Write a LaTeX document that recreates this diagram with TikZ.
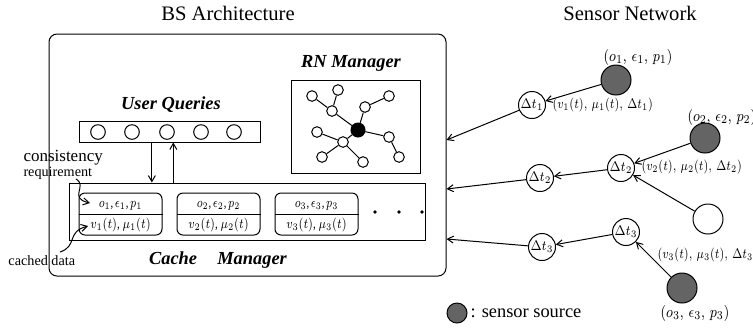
\documentclass[tikz,border=0pt]{standalone}
\usepackage{fontspec}
\usepackage{graphicx}
\setmainfont{Liberation Serif}
\usetikzlibrary{arrows.meta,calc}
\definecolor{srcgray}{RGB}{100,100,100}
\newcommand{\sqz}[2][0.78]{\scalebox{#1}[1]{#2}}
\begin{document}
\begin{tikzpicture}[x=0.5pt,y=-0.5pt, line width=0.5pt,
  arr/.style={-{Straight Barb[length=3pt,width=3.5pt]}},
  ttl/.style={inner sep=0pt,font=\fontsize{10.3}{12}\selectfont},
  btitle/.style={inner sep=0pt,font=\fontsize{9.2}{11}\selectfont\bfseries\itshape},
  rn/.style={circle,draw,fill=white,inner sep=0pt,minimum size=5.3pt},
  qc/.style={circle,draw,inner sep=0pt,minimum size=7.3pt},
  dnode/.style={circle,draw,fill=white,inner sep=0pt,minimum size=13.5pt,font=\fontsize{7}{8}\selectfont},
  src/.style={circle,draw,fill=srcgray,inner sep=0pt,minimum size=15pt},
  lab/.style={inner sep=0pt,font=\fontsize{7}{8}\selectfont},
  olab/.style={inner sep=0pt,font=\fontsize{8}{9}\selectfont},
  item/.style={draw,rounded corners=3pt,minimum width=41.5pt,minimum height=21pt,inner sep=0pt},
  itxt/.style={inner sep=0pt,font=\fontsize{7}{8}\selectfont},
  smalltxt/.style={inner sep=0pt,anchor=west,font=\fontsize{7.1}{8}\selectfont},
  dotnode/.style={circle,fill,inner sep=0pt,minimum size=1.8pt}
]
\useasboundingbox (0,0) rectangle (753,329);

% titles
\node[ttl] (t1) at (228,13) {BS Architecture};
\node[ttl] (t2) at (630,13) {Sensor Network};

% outer box
\node[draw,rounded corners=4pt,minimum width=198.5pt,minimum height=121pt,inner sep=0pt] (bs) at (247.5,155) {};

% RN manager
\node[btitle] (rnt) at (351,63) {RN Manager};
\node[draw,minimum width=64.5pt,minimum height=46.5pt,inner sep=0pt] (rnb) at (355.5,126.5) {};
\node[rn] (r1) at (312,96) {};
\node[rn] (r2) at (338,90) {};
\node[rn] (r3) at (332,111) {};
\node[rn] (r4) at (365,107) {};
\node[rn] (r5) at (389,96) {};
\node[rn] (r7) at (317,132) {};
\node[rn] (r8) at (389,137) {};
\node[rn] (r10) at (322,157) {};
\node[rn] (r11) at (363,162) {};
\node[rn] (r12) at (399,157) {};
\node[rn] (r9) at (343,142) {};
\node[circle,draw,fill=black,inner sep=0pt,minimum size=7pt] (rc) at (358,130) {};
\draw (r1) -- (r3);
\draw (r2) -- (r3);
\draw (r3) -- (rc);
\draw (r4) -- (r5);
\draw (r4) -- (rc);
\draw (rc) -- (r8);
\draw (r8) -- (r12);
\draw (rc) -- (r9);
\draw (r7) -- (r9);
\draw (r9) -- (r11);
\draw (r10) -- (r9);

% user queries
\node[btitle] (uqt) at (171,105) {User Queries};
\node[draw,minimum width=90.5pt,minimum height=10.5pt,inner sep=0pt] (qb) at (169.5,131.5) {};
\node[qc] (q1) at (98,132) {};
\node[qc] (q2) at (132,132) {};
\node[qc] (q3) at (167,132) {};
\node[qc] (q4) at (201,132) {};
\node[qc] (q5) at (234,132) {};

% cache manager
\node[draw,minimum width=178pt,minimum height=28.5pt,inner sep=0pt] (cb) at (247,211.5) {};
\node[btitle] (cmt) at (218,260) {Cache\hspace{1.1em}Manager};

\draw[arr] ($(qb.south west)!0.403!(qb.south east)$) coordinate (qd) -- (qd |- cb.north);
\draw[arr] ($(cb.north west)!0.2935!(cb.north east)$) coordinate (qu) -- (qu |- qb.south);

\node[item] (c1) at (120.5,214) {};
\node[item] (c2) at (218.5,214) {};
\node[item] (c3) at (316.5,214) {};
\draw (c1.west) -- (c1.east);
\draw (c2.west) -- (c2.east);
\draw (c3.west) -- (c3.east);
\node[itxt] (c1a) at (120.5,206) {\sqz[0.75]{$o_1$,\,$\epsilon_1$,\,$p_1$}};
\node[itxt] (c1b) at (120.5,225) {\sqz{$v_1(t)$, $\mu_1(t)$}};
\node[itxt] (c2a) at (218.5,206) {\sqz[0.75]{$o_2$,\,$\epsilon_2$,\,$p_2$}};
\node[itxt] (c2b) at (218.5,225) {\sqz{$v_2(t)$, $\mu_2(t)$}};
\node[itxt] (c3a) at (316.5,206) {\sqz[0.75]{$o_3$,\,$\epsilon_3$,\,$p_3$}};
\node[itxt] (c3b) at (316.5,225) {\sqz{$v_3(t)$, $\mu_3(t)$}};
\node[dotnode] (e1) at (375,212) {};
\node[dotnode] (e2) at (399,212) {};
\node[dotnode] (e3) at (422,212) {};

% annotations
\node[inner sep=0pt,anchor=west,font=\fontsize{8.5}{10}\selectfont] (cons) at (23,158) {consistency};
\node[smalltxt] (req) at (23,173) {requirement};
\node[smalltxt] (cd) at (8,261) {cached data};
\coordinate (reqs) at (76,179);
\coordinate (reqe) at (90,203);
\draw[arr] (reqs) .. controls (88,186) and (68,198) .. (reqe);
\coordinate (cds) at (60,252);
\coordinate (cde) at (88,226);
\draw[arr] (cds) .. controls (78,246) and (66,232) .. (cde);

% sensor network
\node[src] (s1) at (616,80) {};
\node[src] (s2) at (705,138) {};
\node[src] (s3) at (682,288) {};
\node[circle,draw,fill=white,inner sep=0pt,minimum size=15pt] (w) at (708,219) {};
\node[dnode] (d1) at (532,105) {\sqz[0.85]{$\Delta t_1$}};
\node[dnode] (d2r) at (621,168) {\sqz[0.85]{$\Delta t_2$}};
\node[dnode] (d2l) at (540,178) {\sqz[0.85]{$\Delta t_2$}};
\node[dnode] (d3r) at (626,232) {\sqz[0.85]{$\Delta t_3$}};
\node[dnode] (d3l) at (542,247) {\sqz[0.85]{$\Delta t_3$}};

\node[olab] (o1) at (638,57) {\sqz[0.83]{$(o_1,\,\epsilon_1,\,p_1)$}};
\node[olab,anchor=west] (o2) at (687,117) {\sqz[0.83]{$(o_2,\,\epsilon_2,\,p_2)$}};
\node[olab] (o3) at (695,313) {\sqz[0.83]{$(o_3,\,\epsilon_3,\,p_3)$}};
\node[lab,anchor=west] (v1) at (552,105) {\sqz[0.77]{$(v_1(t),\,\mu_1(t),\,\Delta t_1)$}};
\node[lab,anchor=west] (v2) at (641,167) {\sqz[0.77]{$(v_2(t),\,\mu_2(t),\,\Delta t_2)$}};
\node[lab,anchor=west] (v3) at (657,255) {\sqz[0.77]{$(v_3(t),\,\mu_3(t),\,\Delta t_3)$}};

\draw[arr] (s1) -- (d1);
\draw[arr] (s2) -- (d2r);
\draw[arr] (w) -- (d2r);
\draw[arr] (d2r) -- (d2l);
\draw[arr] (d3r) -- (d3l);
\draw[arr] (s3) -- (d3r);
\draw[arr] (d1) -- (bs.east |- 0,140);
\draw[arr] (d2l) -- (bs.east |- 0,189);
\draw[arr] (d3l) -- (bs.east |- 0,239);

% legend
\node[circle,draw,fill=srcgray,inner sep=0pt,minimum size=10pt] (leg) at (457,313) {};
\node[inner sep=0pt,anchor=west,font=\fontsize{9.2}{11}\selectfont] (legt) at (470,313) {: sensor source};
\end{tikzpicture}
\end{document}
